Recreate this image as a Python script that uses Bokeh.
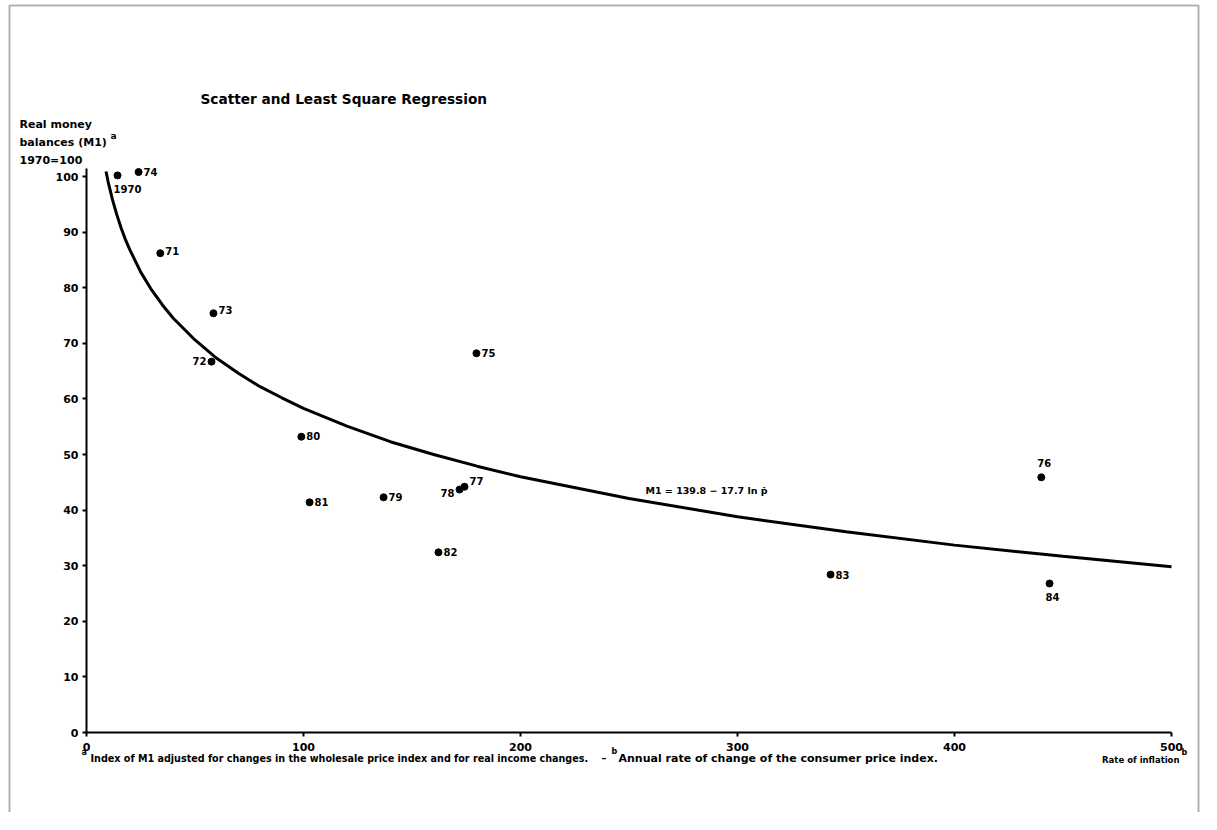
from bokeh.plotting import figure
from bokeh.models import Range1d, Label, BoxAnnotation, ColumnDataSource, FixedTicker
from bokeh.core.properties import value
from bokeh.embed import file_html
from bokeh.resources import INLINE

# ---- data ----
years = ["1970", "71", "72", "73", "74", "75", "76", "77", "78", "79", "80", "81", "82", "83", "84"]
inflation = [14.3, 34.0, 57.6, 58.5, 24.0, 179.7, 440.0, 174.2, 171.9, 136.9, 99.0, 102.8, 162.2, 342.9, 443.8]
real_money = [100.2, 86.2, 66.7, 75.4, 100.8, 68.2, 45.9, 44.2, 43.7, 42.3, 53.2, 41.4, 32.4, 28.4, 26.8]

# regression curve
curve_p = [9, 10, 12, 14, 16, 18, 20, 25, 30, 35, 40, 50, 60, 70, 80, 90, 100, 120, 140, 160,
           180, 200, 250, 300, 350, 400, 450, 500]
curve_m1 = [100.9, 99.0, 95.8, 93.1, 90.7, 88.6, 86.8, 82.8, 79.6, 76.9, 74.5, 70.6, 67.3, 64.6,
            62.2, 60.2, 58.3, 55.1, 52.3, 50.0, 47.9, 46.0, 42.1, 38.8, 36.1, 33.7, 31.7, 29.8]

x_ticks = [0, 100, 200, 300, 400, 500]
y_ticks = [0, 10, 20, 30, 40, 50, 60, 70, 80, 90, 100]

# label placement (styles, kept separate from the data)
lab_dx = [-4, 5, -5, 5, 5, 5, -4, 5, -5, 5, 5, 5, 5, 5, -4]
lab_dy = [10, -2, -1, -3, 0, 0, -14, -6, 3, 0, -1, 0, 0, 0, 10]
lab_align = ["left", "left", "right", "left", "left", "left", "left", "left", "right", "left", "left", "left", "left", "left", "left"]
lab_base = ["top", "middle", "middle", "middle", "middle", "middle", "middle", "middle", "middle", "middle", "middle", "middle", "middle", "middle", "top"]

FONT = "DejaVu Sans"

W, H = 1200, 812
X0, Y0 = 86, 732          # pixel position of the origin
XPX = 500 / 1085           # data units per pixel (x)
YPX = 100 / 556            # data units per pixel (y)


def px(x):
    return (x - X0) * XPX


def py(y):
    return (Y0 - y) * YPX


p = figure(width=W, height=H, output_backend="svg", toolbar_location=None,
           x_range=Range1d(px(0), px(W)), y_range=Range1d(py(H), py(0)),
           min_border=0, min_border_left=0, min_border_right=0,
           min_border_top=0, min_border_bottom=0, tools="")
p.outline_line_color = None
p.grid.visible = False
p.background_fill_color = "white"
p.border_fill_color = "white"

for ax in (p.xaxis[0], p.yaxis[0]):
    ax.fixed_location = 0
    ax.axis_line_width = 2
    ax.axis_line_color = "black"
    ax.major_tick_line_color = "black"
    ax.major_tick_line_width = 2
    ax.major_tick_in = 0
    ax.major_tick_out = 4
    ax.minor_tick_line_color = None
    ax.major_label_text_font = FONT
    ax.major_label_text_font_style = "bold"
    ax.major_label_text_font_size = "11px"
    ax.major_label_text_color = "black"

p.xaxis[0].ticker = FixedTicker(ticks=x_ticks)
p.yaxis[0].ticker = FixedTicker(ticks=y_ticks)
p.xaxis[0].bounds = (0, 500)
p.yaxis[0].bounds = (0, 101.5)
p.xaxis[0].major_label_standoff = 6
p.yaxis[0].major_label_standoff = 4

# regression curve
p.line(curve_p, curve_m1, line_width=3, line_color="black")

# scatter points
src = ColumnDataSource(dict(x=inflation, y=real_money, t=years, dx=lab_dx, dy=lab_dy,
                            al=lab_align, bl=lab_base))
p.scatter("x", "y", source=src, size=7, color="black")
p.text("x", "y", text="t", source=src, x_offset="dx", y_offset="dy",
       text_align="al", text_baseline="bl", text_font=value(FONT),
       text_font_style="bold", text_font_size="10px", text_color="black")


def lab(text, x, y, size="11px", align="left", baseline="middle"):
    p.add_layout(Label(x=px(x), y=py(y), text=text, text_font=FONT,
                       text_font_style="bold", text_font_size=size,
                       text_align=align, text_baseline=baseline, text_color="black"))


lab("Scatter and Least Square Regression", 200, 98, size="13.7px")
lab("Real money", 19, 124, size="11px")
lab("balances (M1)", 19, 142, size="11px")
lab("a", 110, 135, size="9px")
lab("1970=100", 19, 160, size="11px")
lab("M1 = 139.8 \u2212 17.7 ln \u1e57", 645, 490, size="9.5px")
lab("Rate of inflation", 1179, 759, size="8.5px", align="right")
lab("b", 1181, 752, size="8px")
lab("a", 81, 752, size="8px")
lab("Index of M1 adjusted for changes in the wholesale price index and for real income changes.", 90, 758, size="9.6px")
lab("\u2013", 601, 758, size="9.6px")
lab("b", 611, 751, size="8px")
lab("Annual rate of change of the consumer price index.", 618, 758, size="11px")

# page frame
p.add_layout(BoxAnnotation(left=px(9), right=px(1198), top=py(5), bottom=py(900),
                           fill_color=None, line_color="black", line_width=2))

open("out.html", "w").write(file_html(p, INLINE))
